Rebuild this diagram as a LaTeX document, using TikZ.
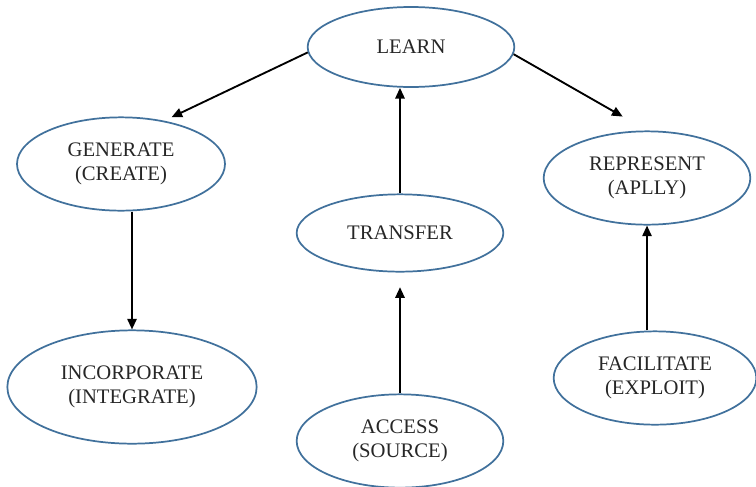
\documentclass[tikz,border=0pt]{standalone}
\usepackage{fontspec}
\setmainfont{Liberation Serif}
\usetikzlibrary{shapes,arrows}
\usetikzlibrary{arrows.meta}
\usetikzlibrary{shapes.geometric}
\definecolor{ringblue}{HTML}{41719C}

\begin{document}
\begin{tikzpicture}[x=0.75pt, y=-0.75pt]
    \tikzstyle{bubble} = [ellipse, draw=ringblue, line width=1.3pt,
    align=center, inner sep=2pt, text=black!85,
    font=\fontsize{15.5}{18.5}\selectfont]
\tikzstyle{line} = [draw, line width=1.4pt, -{Triangle[length=8pt,width=7pt]}]

    \useasboundingbox (0,0) rectangle (756,486);
    % Place nodes
    \node [bubble, minimum width=155pt, minimum height=60pt] (learn) at (411,47) {LEARN};
    \node [bubble, minimum width=156pt, minimum height=70pt] (generate) at (121,164) {GENERATE\\(CREATE)};
    \node [bubble, minimum width=155pt, minimum height=70pt] (represent) at (647,178) {REPRESENT\\(APLLY)};
    \node [bubble, minimum width=155pt, minimum height=58pt] (transfer) at (400,233) {TRANSFER};
    \node [bubble, minimum width=187pt, minimum height=85pt] (incorporate) at (132,387) {INCORPORATE\\(INTEGRATE)};
    \node [bubble, minimum width=155pt, minimum height=70pt] (access) at (400,441) {ACCESS\\(SOURCE)};
    \node [bubble, minimum width=152pt, minimum height=70pt] (facilitate) at (655,378) {FACILITATE\\(EXPLOIT)};
    % Draw edges
    \path [line, shorten >=6pt] (learn.183) -- (generate.45);
    \path [line, shorten >=21pt] (learn.356) -- (represent.north);
    \path [line] (transfer.north) -- (transfer.north |- learn.south);
    \path [line] (incorporate.north |- generate.south) -- (incorporate.north);
    \path [line, shorten >=11pt] (access.north) -- (transfer.south);
    \path [line] (represent.south |- facilitate.north) -- (represent.south);
\end{tikzpicture}
\end{document}
